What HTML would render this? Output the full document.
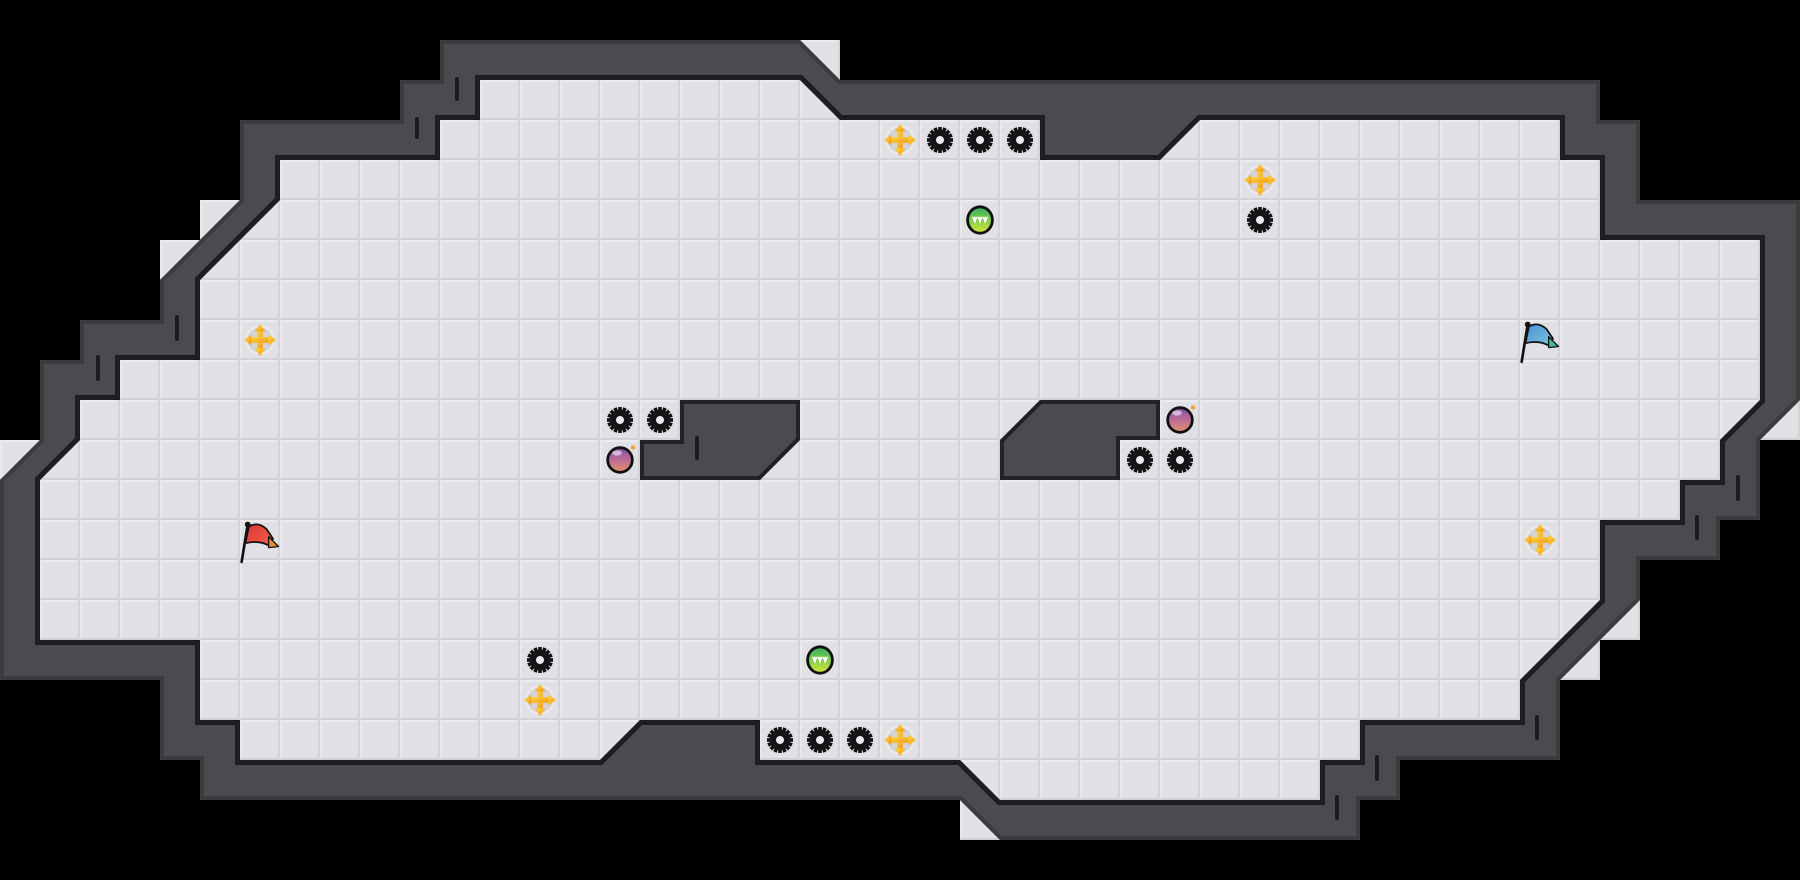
<!DOCTYPE html>
<html>
<head>
<meta charset="utf-8">
<style>
  html, body { margin:0; padding:0; background:#000; }
  body { width:1800px; height:880px; overflow:hidden; }
  svg { display:block; }
</style>
</head>
<body>
<svg width="1800" height="880" viewBox="0 0 1800 880" xmlns="http://www.w3.org/2000/svg">
  <defs>
    <pattern id="tile" x="0" y="0" width="40" height="40" patternUnits="userSpaceOnUse">
      <rect width="40" height="40" fill="#e1e0e5"/>
      <rect x="0" y="0" width="40" height="2" fill="#ecebef"/>
      <rect x="0" y="0" width="2" height="40" fill="#e9e8ec"/>
      <rect x="0" y="38" width="40" height="2" fill="#d1d0d5"/>
      <rect x="38" y="0" width="2" height="40" fill="#d4d3d8"/>
    </pattern>
    <linearGradient id="yg" x1="0" y1="0" x2="1" y2="1">
      <stop offset="0" stop-color="#ffd93c"/>
      <stop offset="1" stop-color="#f39a1c"/>
    </linearGradient>
    <linearGradient id="pg" x1="0" y1="0" x2="0" y2="1">
      <stop offset="0" stop-color="#8a4fb6"/>
      <stop offset="1" stop-color="#e88e6c"/>
    </linearGradient>
    <linearGradient id="gg" x1="0" y1="0" x2="0" y2="1">
      <stop offset="0" stop-color="#2fb15e"/>
      <stop offset="1" stop-color="#d6e83a"/>
    </linearGradient>
    <linearGradient id="bg" x1="0" y1="0" x2="1" y2="1">
      <stop offset="0" stop-color="#4a8fd6"/>
      <stop offset="1" stop-color="#7cc7df"/>
    </linearGradient>
    <linearGradient id="rg" x1="0" y1="0" x2="1" y2="1">
      <stop offset="0" stop-color="#e2363a"/>
      <stop offset="1" stop-color="#f0604a"/>
    </linearGradient>

    <path id="outerP" d="M440,40 L800,40 L840,80 L1600,80 L1600,120 L1640,120 L1640,200 L1800,200 L1800,400 L1760,440 L1760,520 L1720,520 L1720,560 L1640,560 L1640,600 L1560,680 L1560,760 L1400,760 L1400,800 L1360,800 L1360,840 L1000,840 L960,800 L200,800 L200,760 L160,760 L160,680 L0,680 L0,480 L40,440 L40,360 L80,360 L80,320 L160,320 L160,280 L240,200 L240,120 L400,120 L400,80 L440,80 Z"/>
    <path id="innerP" d="M480,80 L800,80 L840,120 L1040,120 L1040,160 L1160,160 L1200,120 L1560,120 L1560,160 L1600,160 L1600,240 L1760,240 L1760,400 L1720,440 L1720,480 L1680,480 L1680,520 L1600,520 L1600,600 L1520,680 L1520,720 L1360,720 L1360,760 L1320,760 L1320,800 L1000,800 L960,760 L760,760 L760,720 L640,720 L600,760 L240,760 L240,720 L200,720 L200,640 L40,640 L40,480 L80,440 L80,400 L120,400 L120,360 L200,360 L200,280 L280,200 L280,160 L440,160 L440,120 L480,120 Z"/>
    <path id="ob1" d="M680,400 L800,400 L800,440 L760,480 L640,480 L640,440 L680,440 Z"/>
    <path id="ob2" d="M1040,400 L1160,400 L1160,440 L1120,440 L1120,480 L1000,480 L1000,440 Z"/>

    <clipPath id="wallClip">
      <path clip-rule="evenodd" d="M440,40 L800,40 L840,80 L1600,80 L1600,120 L1640,120 L1640,200 L1800,200 L1800,400 L1760,440 L1760,520 L1720,520 L1720,560 L1640,560 L1640,600 L1560,680 L1560,760 L1400,760 L1400,800 L1360,800 L1360,840 L1000,840 L960,800 L200,800 L200,760 L160,760 L160,680 L0,680 L0,480 L40,440 L40,360 L80,360 L80,320 L160,320 L160,280 L240,200 L240,120 L400,120 L400,80 L440,80 Z M480,80 L800,80 L840,120 L1040,120 L1040,160 L1160,160 L1200,120 L1560,120 L1560,160 L1600,160 L1600,240 L1760,240 L1760,400 L1720,440 L1720,480 L1680,480 L1680,520 L1600,520 L1600,600 L1520,680 L1520,720 L1360,720 L1360,760 L1320,760 L1320,800 L1000,800 L960,760 L760,760 L760,720 L640,720 L600,760 L240,760 L240,720 L200,720 L200,640 L40,640 L40,480 L80,440 L80,400 L120,400 L120,360 L200,360 L200,280 L280,200 L280,160 L440,160 L440,120 L480,120 Z"/>
    </clipPath>
    <clipPath id="ob1Clip"><use href="#ob1"/></clipPath>
    <clipPath id="ob2Clip"><use href="#ob2"/></clipPath>

    <g id="gear">
      <circle r="9.8" fill="#141416"/>
      <g fill="#141416">
        <rect x="-1.8" y="-13" width="3.6" height="6" transform="rotate(0)"/>
        <rect x="-1.8" y="-13" width="3.6" height="6" transform="rotate(22.5)"/>
        <rect x="-1.8" y="-13" width="3.6" height="6" transform="rotate(45)"/>
        <rect x="-1.8" y="-13" width="3.6" height="6" transform="rotate(67.5)"/>
        <rect x="-1.8" y="-13" width="3.6" height="6" transform="rotate(90)"/>
        <rect x="-1.8" y="-13" width="3.6" height="6" transform="rotate(112.5)"/>
        <rect x="-1.8" y="-13" width="3.6" height="6" transform="rotate(135)"/>
        <rect x="-1.8" y="-13" width="3.6" height="6" transform="rotate(157.5)"/>
        <rect x="-1.8" y="-13" width="3.6" height="6" transform="rotate(180)"/>
        <rect x="-1.8" y="-13" width="3.6" height="6" transform="rotate(202.5)"/>
        <rect x="-1.8" y="-13" width="3.6" height="6" transform="rotate(225)"/>
        <rect x="-1.8" y="-13" width="3.6" height="6" transform="rotate(247.5)"/>
        <rect x="-1.8" y="-13" width="3.6" height="6" transform="rotate(270)"/>
        <rect x="-1.8" y="-13" width="3.6" height="6" transform="rotate(292.5)"/>
        <rect x="-1.8" y="-13" width="3.6" height="6" transform="rotate(315)"/>
        <rect x="-1.8" y="-13" width="3.6" height="6" transform="rotate(337.5)"/>
      </g>
      <circle r="4" fill="#ebeaee"/>
    </g>

    <g id="cross">
      <circle r="13.5" fill="#d0d0d7" stroke="#f0f0f3" stroke-width="1.5" opacity="0.8"/>
      <g fill="url(#yg)">
        <rect x="-2.8" y="-10" width="5.6" height="20"/>
        <rect x="-10" y="-2.8" width="20" height="5.6"/>
        <polygon points="0,-16 -5.5,-8.5 5.5,-8.5"/>
        <polygon points="0,16 -5.5,8.5 5.5,8.5"/>
        <polygon points="-16,0 -8.5,-5.5 -8.5,5.5"/>
        <polygon points="16,0 8.5,-5.5 8.5,5.5"/>
      </g>
      <circle r="2" fill="#f7b52a"/>
    </g>

    <g id="bomb">
      <circle r="12.3" fill="url(#pg)" stroke="#111" stroke-width="2.8"/>
      <ellipse cx="-3" cy="-7" rx="4.8" ry="2.6" fill="#fff" opacity="0.55"/>
      <circle cx="13" cy="-12.5" r="2.2" fill="#f5a030"/>
    </g>

    <g id="orb">
      <ellipse rx="12.4" ry="13.2" fill="url(#gg)" stroke="#111" stroke-width="2.8"/>
      <g fill="#fff">
        <polygon points="-7.5,-2 -3,-2 -5.2,4"/>
        <polygon points="-2.2,-2 2.2,-2 0,4"/>
        <polygon points="3,-2 7.5,-2 5.2,4"/>
      </g>
      <rect x="-8" y="-3.2" width="16" height="1.5" fill="#fff" opacity="0.8"/>
    </g>

    <g id="flagbase">
      <line x1="7" y1="5" x2="1.5" y2="39" stroke="#111" stroke-width="2.4" stroke-linecap="round"/>
      <circle cx="7" cy="5" r="2.6" fill="#111"/>
    </g>
  </defs>

  <rect width="1800" height="880" fill="#000"/>

  <path fill="url(#tile)" d="M440,40 L840,40 L840,80 L1600,80 L1600,120 L1640,120 L1640,200 L1800,200 L1800,440 L1760,440 L1760,520 L1720,520 L1720,560 L1640,560 L1640,640 L1600,640 L1600,680 L1560,680 L1560,760 L1400,760 L1400,800 L1360,800 L1360,840 L960,840 L960,800 L200,800 L200,760 L160,760 L160,680 L0,680 L0,440 L40,440 L40,360 L80,360 L80,320 L160,320 L160,240 L200,240 L200,200 L240,200 L240,120 L400,120 L400,80 L440,80 Z"/>

  <g clip-path="url(#wallClip)">
    <rect width="1800" height="880" fill="#4a4a4f"/>
    <use href="#outerP" fill="none" stroke="#3a3a3f" stroke-width="8"/>
    <use href="#innerP" fill="none" stroke="#1d1d21" stroke-width="10"/>
  </g>

  <g clip-path="url(#ob1Clip)">
    <use href="#ob1" fill="#4a4a4f"/>
    <use href="#ob1" fill="none" stroke="#222226" stroke-width="8"/>
  </g>
  <g clip-path="url(#ob2Clip)">
    <use href="#ob2" fill="#4a4a4f"/>
    <use href="#ob2" fill="none" stroke="#222226" stroke-width="8"/>
  </g>

  <g stroke="#1c1c20" stroke-width="4" stroke-linecap="round">
    <line x1="457" y1="79" x2="457" y2="99"/>
    <line x1="417" y1="119" x2="417" y2="137"/>
    <line x1="177" y1="317" x2="177" y2="339"/>
    <line x1="98" y1="357" x2="98" y2="379"/>
    <line x1="697" y1="438" x2="697" y2="458"/>
    <line x1="1738" y1="477" x2="1738" y2="499"/>
    <line x1="1697" y1="517" x2="1697" y2="538"/>
    <line x1="1537" y1="717" x2="1537" y2="738"/>
    <line x1="1377" y1="757" x2="1377" y2="779"/>
    <line x1="1337" y1="797" x2="1337" y2="818"/>
  </g>

  <use href="#gear" x="940" y="140"/>
  <use href="#gear" x="980" y="140"/>
  <use href="#gear" x="1020" y="140"/>
  <use href="#gear" x="1260" y="220"/>
  <use href="#gear" x="620" y="420"/>
  <use href="#gear" x="660" y="420"/>
  <use href="#gear" x="1140" y="460"/>
  <use href="#gear" x="1180" y="460"/>
  <use href="#gear" x="540" y="660"/>
  <use href="#gear" x="780" y="740"/>
  <use href="#gear" x="820" y="740"/>
  <use href="#gear" x="860" y="740"/>

  <use href="#cross" x="900" y="140"/>
  <use href="#cross" x="1260" y="180"/>
  <use href="#cross" x="260" y="340"/>
  <use href="#cross" x="1540" y="540"/>
  <use href="#cross" x="540" y="700"/>
  <use href="#cross" x="900" y="740"/>

  <use href="#orb" x="980" y="220"/>
  <use href="#orb" x="820" y="660"/>

  <use href="#bomb" x="620" y="460"/>
  <use href="#bomb" x="1180" y="420"/>

  <g transform="translate(240,519) scale(1.1)">
    <path d="M8,7 Q16,2 24,9 L30,18 L26,24 Q17,19 5,22 Z" fill="url(#rg)" stroke="#111" stroke-width="1.6" stroke-linejoin="round"/>
    <polygon points="26,16 35,25 26,26" fill="#f08a30" stroke="#111" stroke-width="1.2" stroke-linejoin="round"/>
    <use href="#flagbase"/>
  </g>

  <g transform="translate(1520,319) scale(1.1)">
    <path d="M8,7 Q16,2 24,9 L30,18 L26,24 Q17,19 5,22 Z" fill="url(#bg)" stroke="#111" stroke-width="1.6" stroke-linejoin="round"/>
    <polygon points="26,16 35,25 26,26" fill="#3fbf8f" stroke="#111" stroke-width="1.2" stroke-linejoin="round"/>
    <use href="#flagbase"/>
  </g>
</svg>
</body>
</html>
